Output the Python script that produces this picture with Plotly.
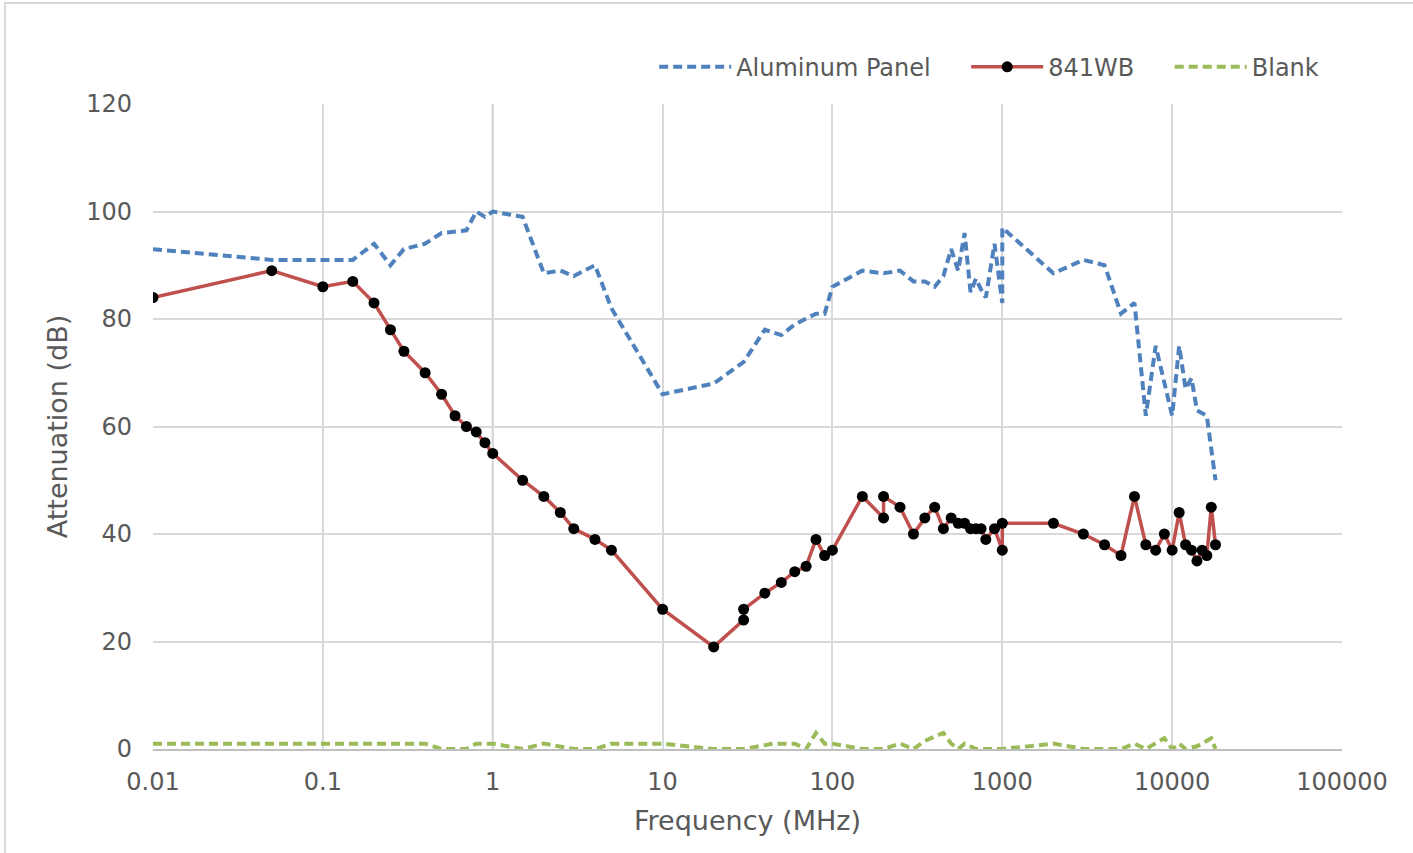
import plotly.graph_objects as go

# ---- data ----
freq_al = [0.01, 0.05, 0.1, 0.15, 0.2, 0.25, 0.3, 0.4, 0.5, 0.7,
           0.8, 0.9, 1, 1.5, 2, 2.5, 3, 4, 5, 10,
           20, 30, 40, 50, 60, 70, 80, 90, 100, 150,
           200, 250, 300, 350, 400, 450, 500, 550, 600, 650,
           700, 750, 800, 900, 1000, 1000, 2000, 3000, 4000, 5000,
           6000, 7000, 8000, 10000, 11000, 12000, 13000, 14000, 16000, 18000]
att_al = [93, 91, 91, 91, 94, 90, 93, 94, 96, 96.5,
          100, 99, 100, 99, 88.5, 89, 88, 90, 82, 66,
          68, 72, 78, 77, 79, 80, 81, 81, 86, 89,
          88.5, 89, 87, 87, 86, 88, 93, 89, 96, 85,
          87.5, 85.5, 84, 94, 83, 97, 88.5, 91, 90, 81,
          83, 62, 75, 62, 75, 67, 69, 63, 62, 50]

freq_wb = [0.01, 0.05, 0.1, 0.15, 0.2, 0.25, 0.3, 0.4, 0.5, 0.6, 0.7, 0.8, 0.9, 1,
           1.5, 2, 2.5, 3, 4, 5, 10, 20,
           30, 30, 40, 50, 60, 70, 80, 90, 100,
           150, 200, 200, 250, 300, 350, 400, 450, 500, 550,
           600, 650, 700, 750, 800, 900, 1000, 1000,
           2000, 3000, 4000, 5000, 6000, 7000, 8000, 9000, 10000, 11000,
           12000, 13000, 14000, 15000, 16000, 17000, 18000]
att_wb = [84, 89, 86, 87, 83, 78, 74, 70, 66, 62, 60, 59, 57, 55,
          50, 47, 44, 41, 39, 37, 26, 19,
          24, 26, 29, 31, 33, 34, 39, 36, 37,
          47, 43, 47, 45, 40, 43, 45, 41, 43, 42,
          42, 41, 41, 41, 39, 41, 37, 42,
          42, 40, 38, 36, 47, 38, 37, 40, 37, 44,
          38, 37, 35, 37, 36, 45, 38]

freq_bl = [0.01, 0.4, 0.5, 0.7, 0.8, 1, 1.5, 2, 3, 4,
           5, 10, 20, 30, 45, 60, 70, 80, 90, 100,
           150, 200, 250, 300, 350, 450, 500, 550, 600, 700,
           1000, 2000, 3000, 5000, 6000, 7000, 9000, 10000, 11000, 12000,
           14000, 17000, 18000]
att_bl = [1, 1, 0, 0, 1, 1, 0, 1, 0, 0,
          1, 1, 0, 0, 1, 1, 0, 3, 1, 1,
          0, 0, 1, 0, 1.5, 3, 1, 0, 1, 0,
          0, 1, 0, 0, 1, 0, 2, 0, 1, 0,
          0.5, 2, 0]

series_names = ["Aluminum Panel", "841WB", "Blank"]
x_tickvals = [0.01, 0.1, 1, 10, 100, 1000, 10000, 100000]
x_ticktext = ["0.01", "0.1", "1", "10", "100", "1000", "10000", "100000"]
y_tickvals = [0, 20, 40, 60, 80, 100, 120]

FONT = "DejaVu Sans"
TXT = "#595959"
PAD = "\u00a0" * 4  # spacing between legend entries

fig = go.Figure()
fig.add_trace(go.Scatter(x=freq_al, y=att_al, mode="lines", name=series_names[0] + PAD,
                         line=dict(color="#4f81bd", width=4, dash="9px,5px")))
fig.add_trace(go.Scatter(x=freq_wb, y=att_wb, mode="lines+markers", name=series_names[1] + PAD,
                         line=dict(color="#c0504d", width=3.5),
                         marker=dict(color="black", size=11)))
fig.add_trace(go.Scatter(x=freq_bl, y=att_bl, mode="lines", name=series_names[2],
                         line=dict(color="#9bbb59", width=4, dash="9px,5px")))

fig.update_layout(
    width=1413, height=853,
    margin=dict(l=153, r=71, t=104, b=104),
    paper_bgcolor="white", plot_bgcolor="white",
    font=dict(family=FONT, color=TXT, size=24),
    showlegend=True,
    legend=dict(orientation="h", x=0.985, xanchor="right", y=1.057, yanchor="middle",
                font=dict(size=24, color=TXT), itemwidth=72, bgcolor="rgba(0,0,0,0)"),
    xaxis=dict(type="log", range=[-2, 5], tickvals=x_tickvals, ticktext=x_ticktext,
               showgrid=True, gridcolor="#d9d9d9", gridwidth=2,
               showline=True, linecolor="#bfbfbf", linewidth=2,
               ticks="", zeroline=False, automargin=False, ticklabelstandoff=10,
               title=dict(text="Frequency (MHz)", font=dict(size=27, color=TXT), standoff=16),
               tickfont=dict(size=24, color=TXT)),
    yaxis=dict(range=[0, 120], tickvals=y_tickvals,
               showgrid=True, gridcolor="#d9d9d9", gridwidth=2,
               showline=False, ticks="", zeroline=False, automargin=False,
               ticklabelstandoff=20,
               title=dict(text="Attenuation (dB)", font=dict(size=27, color=TXT), standoff=10),
               tickfont=dict(size=24, color=TXT)),
)

# vertical axis line crossing at x = 1 (Excel log-axis default)
fig.add_shape(type="line", xref="x", yref="paper", x0=1, x1=1, y0=0, y1=1,
              line=dict(color="#bfbfbf", width=2), layer="below")
# chart area border
fig.add_shape(type="rect", xref="paper", yref="paper", x0=-0.1245, x1=1.07, y0=-0.2, y1=1.1566,
              line=dict(color="#d9d9d9", width=2), layer="below")

fig.write_html("out.html", config={"displayModeBar": False},
               post_script="document.body.style.margin='0';document.body.style.overflow='hidden';")
